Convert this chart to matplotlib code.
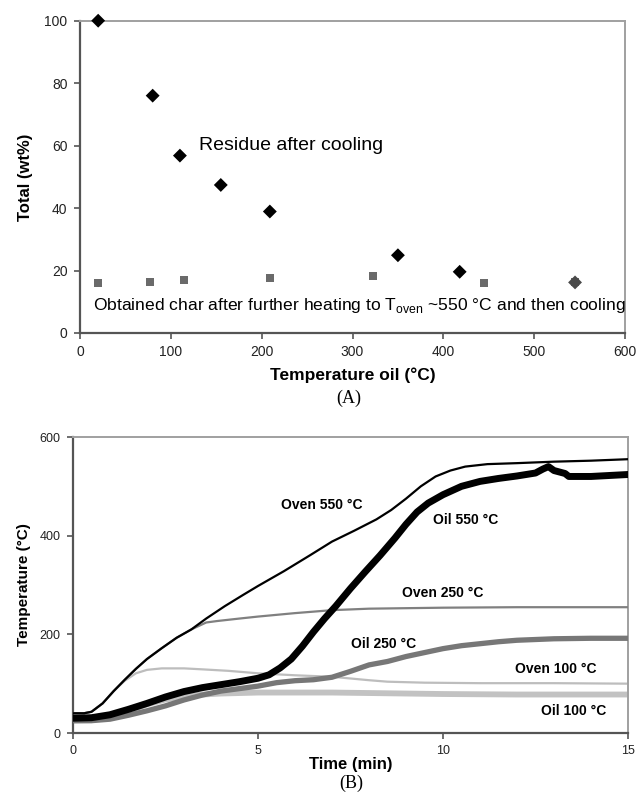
import matplotlib
matplotlib.use("Agg")
import matplotlib.pyplot as plt

plt.rcParams['font.family'] = ['Liberation Sans', 'DejaVu Sans']
plt.rcParams['mathtext.fontset'] = 'custom'
plt.rcParams['mathtext.rm'] = 'Liberation Sans'

# (A) residue and char yield vs oil temperature
residue_temp = [20, 80, 110, 155, 209, 350, 418, 545]
residue_wt = [100, 76.0, 56.8, 47.4, 38.9, 24.9, 19.6, 16.2]
char_temp = [20, 77, 115, 209, 323, 445, 545]
char_wt = [16.1, 16.4, 17.1, 17.7, 18.3, 16.0, 16.2]

# (B) temperature histories
oven550_t = [0, 0.3, 0.5, 0.8, 1.1, 1.4, 1.7, 2.0, 2.4, 2.8, 3.2, 3.6, 4.1, 4.6, 5.0, 5.7, 6.4, 7.0,
             7.6, 8.2, 8.6, 9.0, 9.4, 9.8, 10.2, 10.6, 11.2, 12.0, 13.0, 14.0, 15.0]
oven550_T = [40, 40, 43, 60, 85, 108, 130, 150, 172, 193, 210, 232, 257, 280, 298, 328, 360, 388,
             410, 433, 452, 475, 500, 520, 532, 540, 545, 547, 550, 552, 555]
oven250_t = [0, 0.3, 0.5, 0.8, 1.1, 1.4, 1.7, 2.0, 2.4, 2.8, 3.2, 3.6, 3.9, 4.5, 5.0, 6.0, 7.0, 8.0,
             9.0, 10.0, 12.0, 15.0]
oven250_T = [40, 40, 43, 60, 85, 108, 130, 150, 172, 193, 210, 224, 227, 232, 236, 243, 249, 252,
             253, 254, 255, 255]
oven100_t = [0, 0.3, 0.5, 0.8, 1.1, 1.4, 1.7, 2.0, 2.4, 3.0, 3.5, 4.2, 5.0, 6.0, 7.0, 8.0, 8.5, 9.5,
             11.0, 13.0, 15.0]
oven100_T = [40, 40, 43, 60, 85, 106, 121, 128, 131, 131, 129, 126, 121, 117, 114, 107, 104, 102,
             101, 101, 100]
oil550_t = [0, 0.5, 1.0, 1.5, 2.0, 2.5, 3.0, 3.5, 4.0, 4.5, 5.0, 5.3, 5.6, 5.9, 6.2, 6.5, 6.8, 7.1,
            7.5, 7.9, 8.3, 8.7, 9.0, 9.3, 9.6, 10.0, 10.5, 11.0, 11.5, 12.0, 12.5, 12.7, 12.85, 13.0,
            13.3, 13.4, 14.0, 15.0]
oil550_T = [30, 31, 37, 48, 60, 73, 84, 92, 98, 104, 111, 118, 132, 150, 176, 205, 232, 257,
            293, 327, 360, 395, 423, 448, 466, 483, 500, 510, 516, 521, 527, 535, 540, 532,
            526, 520, 520, 524]
oil250_t = [0, 0.5, 1.0, 1.5, 2.0, 2.5, 3.0, 3.5, 4.0, 4.5, 5.0, 5.5, 6.0, 6.5, 7.0, 7.5, 8.0, 8.5,
            9.0, 9.5, 10.0, 10.5, 11.0, 11.5, 12.0, 13.0, 14.0, 15.0]
oil250_T = [25, 25, 28, 36, 45, 55, 67, 77, 85, 90, 95, 102, 106, 108, 113, 125, 138, 145,
            155, 163, 171, 177, 181, 185, 188, 191, 192, 192]
oil100_t = [0, 0.5, 1.0, 1.5, 2.0, 2.5, 3.0, 3.5, 4.0, 5.0, 6.0, 7.0, 8.0, 9.0, 10.0, 12.0, 15.0]
oil100_T = [25, 26, 33, 45, 58, 68, 74, 78, 80, 82, 82, 82, 81, 80, 79, 78, 78]

fig = plt.figure(figsize=(6.37, 7.94), dpi=100)
W, H = 637, 794


def px_axes(l, t, r, b):
    return fig.add_axes([l / W, 1 - b / H, (r - l) / W, (b - t) / H])


def style_frame(ax):
    for s in ('left', 'bottom'):
        ax.spines[s].set_color('#555555')
        ax.spines[s].set_linewidth(1.6)
    for s in ('top', 'right'):
        ax.spines[s].set_color('#a0a0a0')
        ax.spines[s].set_linewidth(1.4)
    ax.tick_params(direction='out', length=4, width=1.2, color='#555555', labelcolor='#222222')


# ---- panel A ----
axA = px_axes(80, 20.7, 625, 333)
colors = ['black'] * (len(residue_temp) - 1) + ['#4a4a4a']
axA.scatter(char_temp, char_wt, marker='s', s=30, color='#6a6a6a', zorder=3, linewidths=0)
axA.scatter(residue_temp, residue_wt, marker='D', s=50, c=colors, zorder=4, linewidths=0,
            clip_on=False)
axA.set_xlim(0, 600)
axA.set_ylim(0, 100)
axA.set_xticks(range(0, 601, 100))
axA.set_yticks(range(0, 101, 20))
style_frame(axA)
axA.tick_params(labelsize=10, pad=5)
axA.set_xlabel('Temperature oil (°C)', fontsize=12.5, fontweight='bold', labelpad=6)
axA.set_ylabel('Total (wt%)', fontsize=12, fontweight='bold', labelpad=8)
axA.text(131, 60, 'Residue after cooling', fontsize=14, va='center', ha='left')
axA.text(14, 8.7, r'Obtained char after further heating to T$_{\rm oven}$ ~550 °C and then cooling',
         fontsize=12.6, va='center', ha='left')
fig.text(349 / W, 1 - 398 / H, '(A)', family='Liberation Serif', fontsize=13,
         ha='center', va='center')

# ---- panel B ----
axB = px_axes(73, 437, 628, 733)
axB.plot(oil100_t, oil100_T, color='#c2c2c2', lw=4.2, zorder=2)
axB.plot(oven100_t, oven100_T, color='#bdbdbd', lw=1.6, zorder=2)
axB.plot(oil250_t, oil250_T, color='#777777', lw=3.8, zorder=3)
axB.plot(oven250_t, oven250_T, color='#808080', lw=1.6, zorder=3)
axB.plot(oil550_t, oil550_T, color='black', lw=5, zorder=4)
axB.plot(oven550_t, oven550_T, color='black', lw=1.6, zorder=5)
axB.set_xlim(0, 15)
axB.set_ylim(0, 600)
axB.set_xticks([0, 5, 10, 15])
axB.set_yticks([0, 200, 400, 600])
style_frame(axB)
axB.tick_params(labelsize=9, pad=5)
axB.set_xlabel('Time (min)', fontsize=12, fontweight='bold', labelpad=0)
axB.set_ylabel('Temperature (°C)', fontsize=11, fontweight='bold', labelpad=6)

lab = dict(fontsize=10, fontweight='bold', va='center', ha='left')
axB.text(5.62, 462, 'Oven 550 °C', **lab)
axB.text(9.74, 432, 'Oil 550 °C', **lab)
axB.text(8.9, 283, 'Oven 250 °C', **lab)
axB.text(7.52, 180, 'Oil 250 °C', **lab)
axB.text(11.95, 130, 'Oven 100 °C', **lab)
axB.text(12.66, 44, 'Oil 100 °C', **lab)
fig.text(351 / W, 1 - 783 / H, '(B)', family='Liberation Serif', fontsize=13,
         ha='center', va='center')

fig.savefig('out.png', dpi=100)
